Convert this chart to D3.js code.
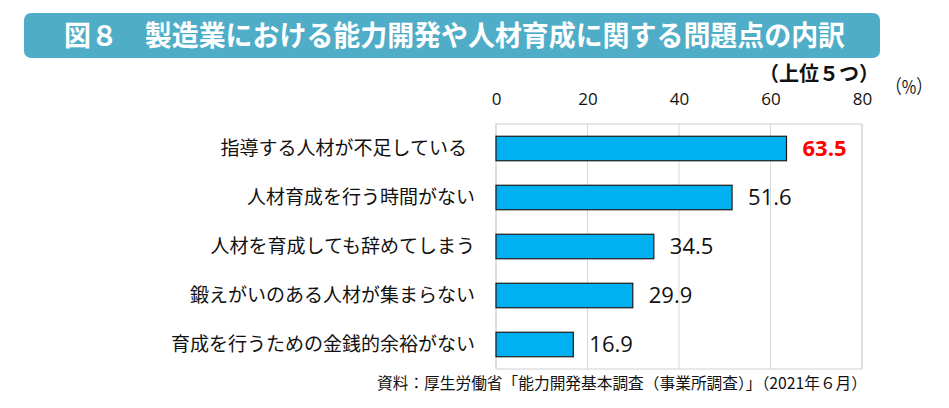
<!DOCTYPE html>
<meta charset="utf-8">
<head>
  <title>図8 製造業における能力開発や人材育成に関する問題点の内訳</title>
  <style>
    body { margin: 0; background: #fff; }
    text { font-family: "Noto Sans CJK JP", sans-serif; }
    .num { font-family: "Open Sans", "Noto Sans", sans-serif; }
  </style>
</head>
<body>
<script src="https://cdn.jsdelivr.net/npm/d3@7"></script>
<script>

const categories = [
  "指導する人材が不足している",
  "人材育成を行う時間がない",
  "人材を育成しても辞めてしまう",
  "鍛えがいのある人材が集まらない",
  "育成を行うための金銭的余裕がない"
];
const values = [63.5, 51.6, 34.5, 29.9, 16.9];
const ticks = [0, 20, 40, 60, 80];

const title = "図８　製造業における能力開発や人材育成に関する問題点の内訳";
const subtitle = "（上位５つ）";
const unit = "（%）";
const source = "資料：厚生労働省「能力開発基本調査（事業所調査）」（2021年６月）";

const totalWidth = 949, totalHeight = 408;
const plot = {left: 496, right: 862, top: 124, bottom: 369};

const svg = d3.select("body")
  .append("svg")
  .attr("width", totalWidth)
  .attr("height", totalHeight);

// title banner
svg.append("rect")
  .attr("x", 24).attr("y", 13)
  .attr("width", 856).attr("height", 45)
  .attr("rx", 7)
  .style("fill", "#4fadc7");

svg.append("text")
  .attr("x", 64).attr("y", 36)
  .attr("dy", "0.36em")
  .attr("textLength", 781)
  .attr("lengthAdjust", "spacingAndGlyphs")
  .style("font-size", "28px")
  .style("font-weight", "bold")
  .style("fill", "#fff")
  .text(title);

svg.append("text")
  .attr("x", 879).attr("y", 74)
  .attr("dy", "0.36em")
  .attr("text-anchor", "end")
  .style("font-size", "20px")
  .style("font-weight", "bold")
  .style("fill", "#111")
  .text(subtitle);

svg.append("text")
  .attr("x", 886).attr("y", 87)
  .attr("dy", "0.36em")
  .attr("textLength", 46)
  .attr("lengthAdjust", "spacingAndGlyphs")
  .style("font-size", "19px")
  .style("fill", "#111")
  .text(unit);

const x = d3.scaleLinear()
  .domain([0, 80])
  .range([plot.left, plot.right]);

const y = d3.scaleBand()
  .domain(categories)
  .range([plot.top, plot.bottom])
  .paddingInner(0.5)
  .paddingOuter(0.25);

// gridlines
svg.append("g")
  .selectAll("line")
  .data(ticks)
  .join("line")
  .attr("x1", d => x(d)).attr("x2", d => x(d))
  .attr("y1", plot.top).attr("y2", plot.bottom)
  .style("stroke", "#d9d9d9")
  .style("stroke-width", 1);

// plot frame
svg.append("rect")
  .attr("x", plot.left).attr("y", plot.top)
  .attr("width", plot.right - plot.left)
  .attr("height", plot.bottom - plot.top)
  .style("fill", "none")
  .style("stroke", "#d0d0d0");

// top axis
const axis = svg.append("g")
  .attr("transform", "translate(0," + (plot.top - 19) + ")")
  .call(d3.axisTop(x).tickValues(ticks).tickSize(0).tickPadding(0));
axis.select(".domain").remove();
axis.selectAll("text")
  .attr("class", "num")
  .style("font-size", "17px")
  .style("fill", "#111");

// bars
svg.append("g")
  .selectAll("rect")
  .data(values)
  .join("rect")
  .attr("x", x(0))
  .attr("y", (d, i) => y(categories[i]))
  .attr("width", d => x(d) - x(0))
  .attr("height", y.bandwidth())
  .style("fill", "#00b0f0")
  .style("stroke", "#1a1a1a")
  .style("stroke-width", 1.2);

// value labels
svg.append("g")
  .selectAll("text")
  .data(values)
  .join("text")
  .attr("class", "num")
  .attr("x", d => x(d) + 16)
  .attr("y", (d, i) => y(categories[i]) + y.bandwidth() / 2)
  .attr("dy", "0.36em")
  .style("font-size", "22px")
  .style("font-weight", (d, i) => i === 0 ? "bold" : "normal")
  .style("fill", (d, i) => i === 0 ? "#ff0000" : "#111")
  .text(d => d.toFixed(1));

// category labels
svg.append("g")
  .selectAll("text")
  .data(categories)
  .join("text")
  .attr("x", (d, i) => i === 0 ? 467 : 475)
  .attr("y", d => y(d) + y.bandwidth() / 2)
  .attr("dy", "0.36em")
  .attr("text-anchor", "end")
  .style("font-size", "19px")
  .style("fill", "#111")
  .text(d => d);

svg.append("text")
  .attr("x", 377).attr("y", 383)
  .attr("dy", "0.36em")
  .attr("textLength", 490)
  .attr("lengthAdjust", "spacingAndGlyphs")
  .style("font-size", "15.5px")
  .style("fill", "#111")
  .text(source);

</script>
</body>
</html>
